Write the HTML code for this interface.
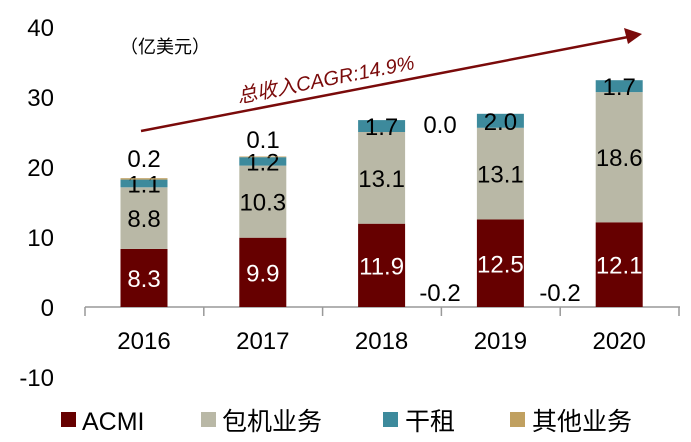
<!DOCTYPE html>
<html><head><meta charset="utf-8"><style>
body{margin:0;background:#fff;}
svg text{font-family:"Liberation Sans","Noto Sans CJK SC",sans-serif;}
</style></head><body>
<svg id="c" width="691" height="437">
<g id="g"></g>
</svg>
<script>
const years=["2016","2017","2018","2019","2020"];
const acmi=[8.3,9.9,11.9,12.5,12.1];
const charter=[8.8,10.3,13.1,13.1,18.6];
const dryLease=[1.1,1.2,1.7,2.0,1.7];
const other=[0.2,0.1,0.0,0.0,0.0];
const yTicks=[-10,0,10,20,30,40];
const seriesNames=["ACMI","包机业务","干租","其他业务"];
const colors=["#660000","#b9b8a6","#3d8a9c","#c0a060"];
const NS="http://www.w3.org/2000/svg";
const g=document.getElementById('g');
function y(v){return 307-v*7.0;}
function x(i){return 144+i*118.8;}
const bw=47;
function mk(t,a,p){const e=document.createElementNS(NS,t);for(const k in a)e.setAttribute(k,a[k]);(p||g).appendChild(e);return e;}
yTicks.forEach(v=>{const t=mk('text',{x:54,y:y(v)+9,'text-anchor':'end','font-size':24,fill:'#000'});t.textContent=v;

});
const ax=mk('line',{x1:85,y1:307,x2:680,y2:307,stroke:'#999','stroke-width':1.5});


for(let i=0;i<=years.length;i++){const xx=85+i*118.8;const tk=mk('line',{x1:xx,y1:307,x2:xx,y2:316,stroke:'#999','stroke-width':1.5});

}
const series=[acmi,charter,dryLease,other];
years.forEach((yr,i)=>{
 let base=0;
 series.forEach((s,k)=>{
  const v=s[i];
  if(v>0){const r=mk('rect',{x:x(i)-bw/2,y:y(base+v),width:bw,height:y(base)-y(base+v),fill:colors[k]});
  
  }
  if(k<3){const t=mk('text',{x:x(i),y:(y(base)+y(base+v))/2+9,'text-anchor':'middle','font-size':24,fill:k==0?'#fff':'#000'});t.textContent=v.toFixed(1);
  
  }
  base+=v;
 });
 const tl=mk('text',{x:x(i),y:349,'text-anchor':'middle','font-size':24,fill:'#000'});tl.textContent=yr;
 
 
});
[[144,167,"0.2"],[263,148,"0.1"],[440,133,"0.0"],[440,301,"-0.2"],[560,301,"-0.2"]].forEach(a=>{const t=mk('text',{x:a[0],y:a[1],'text-anchor':'middle','font-size':24,fill:'#000'});t.textContent=a[2];

});
const u=mk('text',{x:120,y:53,'font-size':18,fill:'#000'});u.textContent="（亿美元）";


const al=mk('line',{x1:141,y1:131,x2:628,y2:37,stroke:'#7a0a0a','stroke-width':2.5});


const ah=mk('polygon',{points:'642,34 624,28 628,44',fill:'#7a0a0a'});


const ct=mk('text',{x:327,y:86,'text-anchor':'middle','font-size':20,'font-style':'italic',fill:'#7a0a0a',transform:'rotate(-11 327 86)'});ct.textContent="总收入CAGR:14.9%";


const sx=[61,201,383,510];
const tx=[82,222,405,532];
seriesNames.forEach((n,k)=>{
 const r=mk('rect',{x:sx[k],y:412,width:15,height:15,fill:colors[k]});
 
 
 const t=mk('text',{x:tx[k],y:430,'font-size':25,fill:'#000'});t.textContent=n;
 
 
});
</script>
</body></html>
